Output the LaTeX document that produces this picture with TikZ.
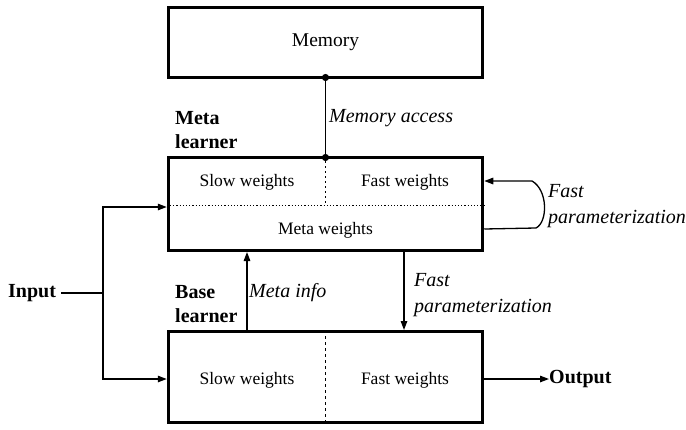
\documentclass[tikz,border=0pt]{standalone}
\usepackage{fontspec}
\setmainfont{Liberation Serif}
\usetikzlibrary{arrows.meta}

\tikzset{
  blockbox/.style={draw, line width=3pt, minimum width=314.5pt, inner sep=0pt},
  arr/.style={line width=1.3pt, -{Triangle[length=9pt,width=6.5pt]}},
  boxtext/.style={font=\fontsize{17.5}{21}\selectfont},
  boldlabel/.style={font=\fontsize{20}{24}\selectfont\bfseries, align=left, anchor=west, inner sep=0pt},
  itlabel/.style={font=\fontsize{20}{25.5}\selectfont\itshape, align=left, anchor=west, inner sep=0pt},
}

\begin{document}
\begin{tikzpicture}[x=1pt,y=-1pt]
\useasboundingbox (0,0) rectangle (686,429);
% Blocks
    \node[blockbox, minimum height=70pt] (memory) at (325.5,42.5) {\fontsize{19.5}{23}\selectfont Memory};
    \node[blockbox, minimum height=93pt] (meta) at (325.5,204) {};
    \node[blockbox, minimum height=91pt] (base) at (325.5,377) {};
% Inside the meta learner
    \draw[line width=1pt, dash pattern=on 1.2pt off 2pt] (meta.west |- 0,205) -- (meta.east |- 0,205);
    \draw[line width=1.5pt, dash pattern=on 1.5pt off 3.5pt] (meta.north) -- (325.5,205);
    \node[boxtext] (mslow) at (247,182) {Slow weights};
    \node[boxtext] (mfast) at (405,182) {Fast weights};
    \node[boxtext] (mmeta) at (325.5,230) {Meta weights};
% Inside the base learner
    \draw[line width=1pt, dash pattern=on 3pt off 3pt] (base.north) -- (base.south);
    \node[boxtext] (bslow) at (247,380) {Slow weights};
    \node[boxtext] (bfast) at (405,380) {Fast weights};
% Labels
    \node[boldlabel] (metalbl) at (175,130) {Meta\\learner};
    \node[boldlabel] (baselbl) at (175,304) {Base\\learner};
    \node[boldlabel] (inp) at (8,293) {Input};
    \node[boldlabel] (out) at (549,379) {Output};
    \node[itlabel] (acclbl) at (329,118) {Memory access};
    \node[itlabel] (infolbl) at (249,293) {Meta info};
    \node[itlabel] (fplbl) at (414,295) {Fast\\parameterization};
    \node[itlabel] (looplbl) at (548,206) {Fast\\parameterization};
% Connectors
    \coordinate (split) at (103,293);
    \draw[line width=1.3pt] (memory.south) -- (meta.north);
    \fill ([yshift=1.5pt]memory.south) circle (3.6pt);
    \fill ([yshift=-1.5pt]meta.north) circle (3.6pt);
    \draw[line width=1.3pt, shorten <=5pt] (inp.east) -- (split);
    \draw[arr] (split) |- ([yshift=-3pt]meta.west);
    \draw[arr] (split) |- ([yshift=-2pt]base.west);
    \draw[arr] ([xshift=-78.5pt]base.north) -- ([xshift=-78.5pt]meta.south);
    \draw[arr] ([xshift=78.5pt]meta.south) -- ([xshift=78.5pt]base.north);
    \draw[arr] ([yshift=-2pt]base.east) -- (out.west);
    \draw[arr] ([yshift=-25pt]meta.east) -- (536,228) .. controls (548,222) and (548,190) .. (532,181) -- ([yshift=23pt]meta.east);
\end{tikzpicture}
\end{document}
